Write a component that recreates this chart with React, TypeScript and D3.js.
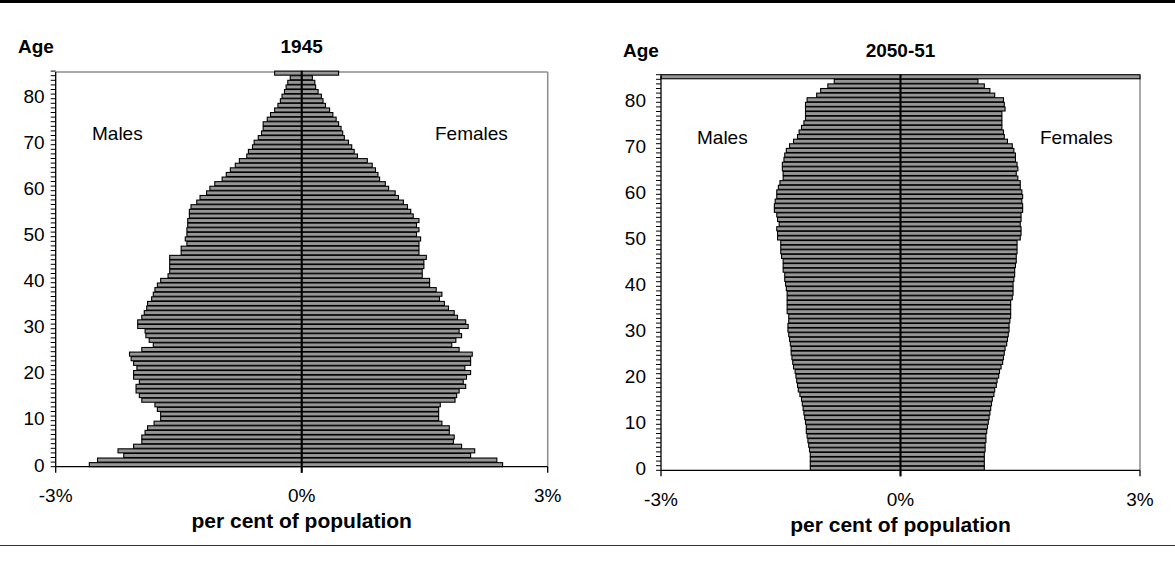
import React from "react";
import * as d3 from "d3";

// ---------- data (per cent of population, index = age 0..84, last = 85+) ----------
const ages: number[] = d3.range(0, 86);
const ageTickLabels: number[] = [0, 10, 20, 30, 40, 50, 60, 70, 80];
const xTickValues: number[] = [-3, 0, 3];
const xTickLabels: string[] = ["-3%", "0%", "3%"];

const males1945: number[] = [
  2.59, 2.49, 2.17, 2.24, 2.05, 1.95, 1.95, 1.91, 1.88, 1.80,
  1.72, 1.72, 1.76, 1.79, 1.95, 1.98, 2.02, 2.02, 1.98, 2.05,
  2.05, 2.01, 2.05, 2.08, 2.10, 1.95, 1.81, 1.86, 1.90, 1.91,
  2.00, 2.00, 1.95, 1.92, 1.89, 1.88, 1.83, 1.81, 1.79, 1.76,
  1.72, 1.63, 1.61, 1.61, 1.61, 1.61, 1.47, 1.47, 1.40, 1.42,
  1.40, 1.40, 1.39, 1.39, 1.37, 1.37, 1.35, 1.28, 1.24, 1.16,
  1.12, 1.06, 0.97, 0.92, 0.87, 0.81, 0.76, 0.67, 0.65, 0.60,
  0.58, 0.53, 0.49, 0.47, 0.47, 0.42, 0.38, 0.33, 0.29, 0.26,
  0.24, 0.21, 0.19, 0.17, 0.14, 0.33,
];
const females1945: number[] = [
  2.45, 2.38, 2.06, 2.11, 1.95, 1.85, 1.86, 1.80, 1.80, 1.71,
  1.67, 1.67, 1.67, 1.69, 1.87, 1.89, 1.92, 2.00, 1.97, 2.01,
  2.06, 1.99, 2.06, 2.06, 2.08, 1.92, 1.83, 1.88, 1.95, 1.92,
  2.03, 2.00, 1.90, 1.86, 1.79, 1.74, 1.68, 1.71, 1.64, 1.56,
  1.56, 1.47, 1.47, 1.49, 1.49, 1.52, 1.43, 1.43, 1.43, 1.45,
  1.40, 1.43, 1.40, 1.43, 1.36, 1.33, 1.29, 1.24, 1.18, 1.14,
  1.06, 1.02, 0.95, 0.93, 0.90, 0.86, 0.80, 0.68, 0.64, 0.61,
  0.57, 0.52, 0.50, 0.48, 0.45, 0.42, 0.38, 0.34, 0.29, 0.26,
  0.24, 0.20, 0.17, 0.16, 0.13, 0.45,
];
const males2050: number[] = [
  1.13, 1.13, 1.13, 1.13, 1.14, 1.15, 1.16, 1.17, 1.18, 1.18,
  1.19, 1.20, 1.21, 1.22, 1.23, 1.24, 1.26, 1.28, 1.29, 1.30,
  1.31, 1.32, 1.34, 1.35, 1.36, 1.37, 1.37, 1.38, 1.39, 1.40,
  1.41, 1.41, 1.40, 1.40, 1.42, 1.42, 1.42, 1.42, 1.42, 1.43,
  1.44, 1.45, 1.45, 1.47, 1.47, 1.47, 1.49, 1.50, 1.50, 1.50,
  1.54, 1.54, 1.55, 1.52, 1.54, 1.55, 1.58, 1.58, 1.57, 1.55,
  1.55, 1.53, 1.51, 1.47, 1.47, 1.48, 1.48, 1.46, 1.45, 1.43,
  1.39, 1.34, 1.29, 1.27, 1.24, 1.21, 1.19, 1.19, 1.19, 1.19,
  1.17, 1.05, 1.00, 0.91, 0.83, 3.5,
];
const females2050: number[] = [
  1.05, 1.05, 1.05, 1.05, 1.06, 1.06, 1.07, 1.07, 1.08, 1.09,
  1.10, 1.11, 1.12, 1.13, 1.14, 1.15, 1.17, 1.18, 1.20, 1.21,
  1.23, 1.24, 1.26, 1.28, 1.29, 1.30, 1.31, 1.33, 1.34, 1.35,
  1.36, 1.36, 1.37, 1.38, 1.38, 1.38, 1.38, 1.40, 1.41, 1.41,
  1.41, 1.42, 1.43, 1.43, 1.44, 1.45, 1.45, 1.46, 1.46, 1.46,
  1.50, 1.51, 1.51, 1.50, 1.51, 1.51, 1.53, 1.53, 1.52, 1.53,
  1.52, 1.50, 1.50, 1.47, 1.45, 1.47, 1.46, 1.44, 1.44, 1.42,
  1.40, 1.34, 1.30, 1.29, 1.27, 1.27, 1.27, 1.27, 1.31, 1.30,
  1.29, 1.18, 1.12, 1.05, 0.97, 3.5,
];

// ---------- layout ----------
interface Panel {
  title: string;
  males: number[];
  females: number[];
  x0: number;
  x1: number;
  bottom: number;
  step: number;
  labelGap: number;
  titleBaseline: number;
  sexBaseline: number;
  malesX: number;
  femalesX: number;
  xLabelBaseline: number;
  xTitleBaseline: number;
  ageX: number;
}

const panels: Panel[] = [
  {
    title: "1945", males: males1945, females: females1945,
    x0: 55.7, x1: 547.7, bottom: 466.7, step: 4.6, labelGap: 11,
    titleBaseline: 53, sexBaseline: 140, malesX: 92, femalesX: 435,
    xLabelBaseline: 502, xTitleBaseline: 528, ageX: 18,
  },
  {
    title: "2050-51", males: males2050, females: females2050,
    x0: 661, x1: 1140, bottom: 470.3, step: 4.6, labelGap: 15,
    titleBaseline: 57, sexBaseline: 144, malesX: 697, femalesX: 1040,
    xLabelBaseline: 506, xTitleBaseline: 532, ageX: 623,
  },
];

const FONT = "'Liberation Sans', Arial, Helvetica, sans-serif";
const FS = 19;
const FS_AXIS_TITLE = 21;
const BAR_FILL = "#969696";

function PyramidPanel({ p }: { p: Panel }) {
  const top = p.bottom - ages.length * p.step;
  const x = d3.scaleLinear().domain([-3, 3]).range([p.x0, p.x1]).clamp(true);
  const y = d3
    .scaleBand<number>()
    .domain(ages)
    .range([p.bottom, top])
    .paddingInner(0.12);
  const frameTop = top + 1;
  const cx = x(0);
  const boundaries = d3.range(0, ages.length + 1).map((k) => p.bottom - k * p.step);

  return (
    <g>
      {/* titles */}
      <text x={p.ageX} y={p.titleBaseline} fontFamily={FONT} fontSize={FS} fontWeight="bold">Age</text>
      <text x={cx} y={p.titleBaseline} fontFamily={FONT} fontSize={FS} fontWeight="bold" textAnchor="middle">{p.title}</text>

      {/* frame (top & right in grey) */}
      <line x1={p.x0} x2={p.x1} y1={frameTop} y2={frameTop} stroke="#8c8c8c" strokeWidth={1.5} />
      <line x1={p.x1} x2={p.x1} y1={frameTop} y2={p.bottom} stroke="#8c8c8c" strokeWidth={1.5} />

      {/* bars */}
      {ages.map((a, i) => {
        const by = y(a) as number;
        const bh = y.bandwidth();
        return (
          <g key={a}>
            <rect x={x(-p.males[i])} y={by} width={cx - x(-p.males[i])} height={bh}
              fill={BAR_FILL} stroke="#000" strokeWidth={1.1} />
            <rect x={cx} y={by} width={x(p.females[i]) - cx} height={bh}
              fill={BAR_FILL} stroke="#000" strokeWidth={1.1} />
          </g>
        );
      })}

      {/* y axis */}
      <line x1={p.x0} x2={p.x0} y1={frameTop} y2={p.bottom} stroke="#000" strokeWidth={1.3} />
      {boundaries.map((b, k) => (
        <line key={k} x1={p.x0 - 5} x2={p.x0} y1={b} y2={b} stroke="#000" strokeWidth={1} />
      ))}
      {ageTickLabels.map((a) => (
        <text key={a} x={p.x0 - p.labelGap} y={(y(a) as number) + y.bandwidth() / 2}
          dy="0.36em" textAnchor="end" fontFamily={FONT} fontSize={FS}>{a}</text>
      ))}

      {/* x axis */}
      <line x1={p.x0} x2={p.x1} y1={p.bottom} y2={p.bottom} stroke="#000" strokeWidth={1.3} />
      {xTickValues.map((v, i) => (
        <g key={v}>
          <line x1={x(v)} x2={x(v)} y1={p.bottom} y2={p.bottom + 6} stroke="#000" strokeWidth={1.3} />
          <text x={x(v)} y={p.xLabelBaseline} textAnchor="middle" fontFamily={FONT} fontSize={FS}>{xTickLabels[i]}</text>
        </g>
      ))}
      <text x={cx} y={p.xTitleBaseline} textAnchor="middle" fontFamily={FONT} fontSize={FS_AXIS_TITLE} fontWeight="bold">per cent of population</text>

      {/* centre line */}
      <line x1={cx} x2={cx} y1={top} y2={p.bottom + 6} stroke="#000" strokeWidth={2} />

      {/* sex labels */}
      <text x={p.malesX} y={p.sexBaseline} fontFamily={FONT} fontSize={FS}>Males</text>
      <text x={p.femalesX} y={p.sexBaseline} fontFamily={FONT} fontSize={FS}>Females</text>
    </g>
  );
}

export default function App() {
  return (
    <div style={{ position: "fixed", left: 0, top: 0 }}>
      <svg width={1175} height={573} viewBox="0 0 1175 573" style={{ display: "block", background: "#fff" }}>
        <rect x={0} y={0} width={1175} height={573} fill="#fff" />
        <line x1={0} x2={1175} y1={1.5} y2={1.5} stroke="#000" strokeWidth={3} />
        {panels.map((p) => (
          <PyramidPanel key={p.title} p={p} />
        ))}
        <line x1={0} x2={1175} y1={545.5} y2={545.5} stroke="#333" strokeWidth={1} />
      </svg>
    </div>
  );
}
